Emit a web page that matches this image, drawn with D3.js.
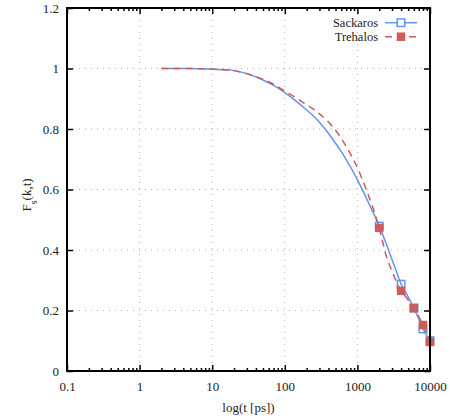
<!DOCTYPE html>
<html>
<head>
<meta charset="utf-8">
<script src="https://cdn.jsdelivr.net/npm/d3@7"></script>
<style>
body { margin: 0; background: #fff; }
text { font-family: "Liberation Serif", "Times New Roman", "DejaVu Serif", serif; font-size: 13px; fill: #222; }
</style>
</head>
<body>
<div class="chart"></div>
<script>
var WIDTH = 450;
var HEIGHT = 419;
var margin = {top: 8, right: 20, bottom: 48, left: 67};

var tValues = [2, 3, 5, 7, 10, 15, 20, 30, 40, 50, 70, 100, 150, 200, 250, 300, 400, 500, 600, 700, 850, 1000, 1200, 1400, 1700, 2000, 2500, 3000, 3500, 4000, 5000, 6000, 7000, 8000, 9000, 10000];
var sackaros = [1.0, 1.0, 1.0, 0.999, 0.998, 0.996, 0.993, 0.983, 0.972, 0.962, 0.944, 0.92, 0.888, 0.863, 0.842, 0.822, 0.785, 0.753, 0.725, 0.699, 0.664, 0.632, 0.594, 0.56, 0.517, 0.479, 0.42, 0.368, 0.325, 0.287, 0.245, 0.208, 0.172, 0.139, 0.118, 0.1];
var trehalos = [1.0, 1.0, 1.0, 0.999, 0.998, 0.996, 0.993, 0.983, 0.973, 0.964, 0.948, 0.925, 0.9, 0.88, 0.865, 0.85, 0.823, 0.796, 0.769, 0.743, 0.706, 0.672, 0.626, 0.585, 0.527, 0.473, 0.38, 0.33, 0.292, 0.265, 0.235, 0.208, 0.18, 0.152, 0.123, 0.096];
var markerT = [2000, 4000, 6000, 8000, 10000];

var xTicks = [0.1, 1, 10, 100, 1000, 10000];
var yTicks = [0, 0.2, 0.4, 0.6, 0.8, 1, 1.2];

var BLUE = "#6495ed";
var RED = "#cd5c5c";

var w = WIDTH - margin.left - margin.right;
var h = HEIGHT - margin.top - margin.bottom;

var x = d3.scaleLog().domain([0.1, 10000]).range([0, w]);
var y = d3.scaleLinear().domain([0, 1.2]).range([h, 0]);

var svg = d3.select(".chart")
    .append("svg")
    .attr("width", WIDTH)
    .attr("height", HEIGHT);

var g = svg.append("g")
    .attr("transform", "translate(" + margin.left + "," + margin.top + ")");

// grid
g.selectAll(".vgrid")
    .data(xTicks.slice(1, -1))
    .enter().append("line")
    .attr("x1", function(d) { return x(d); })
    .attr("x2", function(d) { return x(d); })
    .attr("y1", 0)
    .attr("y2", h)
    .attr("stroke", "#b0b0b0")
    .attr("stroke-dasharray", "1,5");

g.selectAll(".hgrid")
    .data(yTicks.slice(1, -1))
    .enter().append("line")
    .attr("x1", 0)
    .attr("x2", w)
    .attr("y1", function(d) { return y(d); })
    .attr("y2", function(d) { return y(d); })
    .attr("stroke", "#b0b0b0")
    .attr("stroke-dasharray", "1,5");

// minor x ticks
var minor = [];
for (var e = -1; e < 4; e++) {
    for (var k = 2; k < 10; k++) minor.push(k * Math.pow(10, e));
}

var axes = g.append("g");

axes.append("g").attr("transform", "translate(0," + h + ")")
    .call(d3.axisBottom(x).tickValues(xTicks).tickSize(-6).tickPadding(11)
        .tickFormat(function(d) { return d >= 1 ? d3.format("d")(d) : d; }));
axes.append("g").attr("transform", "translate(0," + h + ")")
    .call(d3.axisBottom(x).tickValues(minor).tickSize(-3).tickFormat(""));
axes.append("g")
    .call(d3.axisTop(x).tickValues(xTicks).tickSize(-6).tickFormat(""));
axes.append("g")
    .call(d3.axisTop(x).tickValues(minor).tickSize(-3).tickFormat(""));
axes.append("g")
    .call(d3.axisLeft(y).tickValues(yTicks).tickSize(-6).tickPadding(8)
        .tickFormat(function(d) { return d3.format("~g")(d); }));
axes.append("g").attr("transform", "translate(" + w + ",0)")
    .call(d3.axisRight(y).tickValues(yTicks).tickSize(-6).tickFormat(""));

axes.selectAll(".domain").remove();
axes.selectAll("g").attr("font-family", null).attr("font-size", null);
axes.selectAll(".tick line").attr("stroke", "#000").attr("stroke-width", 1.5);
axes.selectAll(".tick text").attr("fill", "#222");

// curves
var line = d3.line()
    .x(function(d) { return x(d[0]); })
    .y(function(d) { return y(d[1]); })
    .curve(d3.curveCatmullRom.alpha(0.5));

var series = [
    {name: "Sackaros", values: sackaros, color: BLUE, dash: null, filled: false},
    {name: "Trehalos", values: trehalos, color: RED, dash: "7,5", filled: true}
];

series.forEach(function(s) {
    var pts = tValues.map(function(t, i) { return [t, s.values[i]]; });
    g.append("path")
        .datum(pts)
        .attr("d", line)
        .attr("fill", "none")
        .attr("stroke", s.color)
        .attr("stroke-width", 1.5)
        .attr("stroke-dasharray", s.dash);
    var mk = pts.filter(function(p) { return markerT.indexOf(p[0]) >= 0; });
    var sz = s.filled ? 8.5 : 7.5;
    g.selectAll(".m" + s.name)
        .data(mk)
        .enter().append("rect")
        .attr("x", function(d) { return x(d[0]) - sz / 2; })
        .attr("y", function(d) { return y(d[1]) - sz / 2; })
        .attr("width", sz)
        .attr("height", sz)
        .attr("fill", s.filled ? s.color : "none")
        .attr("stroke", s.filled ? "none" : s.color)
        .attr("stroke-width", 1.5);
});

// frame
g.append("rect")
    .attr("x", 0).attr("y", 0)
    .attr("width", w).attr("height", h)
    .attr("fill", "none")
    .attr("stroke", "#000")
    .attr("stroke-width", 2);

// legend
var legend = svg.append("g");
series.forEach(function(s, i) {
    var ly = 22.7 + i * 14;
    legend.append("text")
        .attr("x", 378)
        .attr("y", ly + 4.3)
        .attr("text-anchor", "end")
        .style("font-size", "12.5px")
        .text(s.name);
    legend.append("line")
        .attr("x1", 385).attr("x2", 417)
        .attr("y1", ly).attr("y2", ly)
        .attr("stroke", s.color)
        .attr("stroke-width", 1.5)
        .attr("stroke-dasharray", s.dash);
    var sz = s.filled ? 8.5 : 7.5;
    legend.append("rect")
        .attr("x", 401 - sz / 2).attr("y", ly - sz / 2)
        .attr("width", sz).attr("height", sz)
        .attr("fill", s.filled ? s.color : "#fff")
        .attr("stroke", s.filled ? "none" : s.color)
        .attr("stroke-width", 1.5);
});

// axis titles
svg.append("text")
    .attr("x", margin.left + w / 2)
    .attr("y", 412)
    .attr("text-anchor", "middle")
    .text("log(t [ps])");

var yl = svg.append("text")
    .attr("transform", "translate(31,195) rotate(-90)")
    .attr("text-anchor", "middle");
yl.append("tspan").text("F");
yl.append("tspan").attr("baseline-shift", "sub").style("font-size", "10px").text("s");
yl.append("tspan").text("(k,t)");
</script>
</body>
</html>
